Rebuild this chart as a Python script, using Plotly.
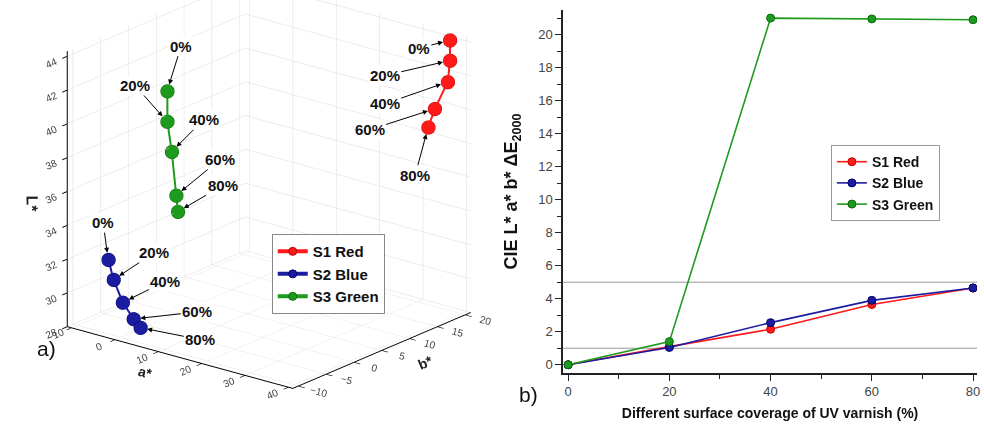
import math
import plotly.graph_objects as go

# ---------------- data ----------------
coverage = [0, 20, 40, 60, 80]
cov_labels = ["0%", "20%", "40%", "60%", "80%"]
series_names = ["S1 Red", "S2 Blue", "S3 Green"]

# 3D CIE L*a*b* values
red_a = [37.5, 37.5, 37.0, 34.0, 32.5]
red_b = [20.0, 20.0, 20.0, 20.0, 20.0]
red_L = [44.0, 42.8, 41.5, 39.7, 38.5]

blue_a = [-2.8, -1.6, 0.5, 3.0, 4.6]
blue_b = [-10.0, -10.0, -10.0, -10.0, -10.0]
blue_L = [32.4, 31.3, 30.1, 29.3, 28.9]

green_a = [-10.5, -10.5, -10.5, -10.5, -10.5]
green_b = [6.6, 6.6, 7.4, 8.2, 8.5]
green_L = [39.5, 37.7, 35.8, 33.1, 32.1]

# Delta E 2000 (panel b)
red_dE = [0.0, 1.1, 2.15, 3.65, 4.65]
blue_dE = [0.0, 1.05, 2.55, 3.9, 4.65]
green_dE = [0.0, 1.4, 21.0, 20.95, 20.9]
thresholds = [1, 5]

# ---------------- styles ----------------
colors = {"S1 Red": "#ff1a1a", "S2 Blue": "#1c1ca0", "S3 Green": "#1e9a1e"}
edge = {"S1 Red": "#c00000", "S2 Blue": "#000070", "S3 Green": "#0a6a0a"}
FONT = "Liberation Sans, Arial, sans-serif"

# label offsets (pixels) for the 3D annotations
red_off = [(-31, 8), (-65, 15), (-63, 22), (-65, 21), (-13, 48)]
blue_off = [(-5, -37), (41, -27), (43, -21), (64, -7), (60, 12)]
green_off = [(14, -45), (-32, -36), (32, -32), (44, -36), (45, -26)]

fig = go.Figure()

sets3d = [
    ("S1 Red", red_a, red_b, red_L, red_off),
    ("S2 Blue", blue_a, blue_b, blue_L, blue_off),
    ("S3 Green", green_a, green_b, green_L, green_off),
]
annotations3d = []
for name, xa, yb, zl, offs in sets3d:
    fig.add_trace(go.Scatter3d(
        x=xa, y=yb, z=zl, mode="lines+markers", name="<b>" + name + "</b>",
        line=dict(color=colors[name], width=4),
        marker=dict(color=colors[name], size=8, line=dict(color=edge[name], width=1)),
        legend="legend",
    ))
    for i in range(len(xa)):
        annotations3d.append(dict(
            x=xa[i], y=yb[i], z=zl[i], text="<b>" + cov_labels[i] + "</b>",
            showarrow=True, ax=offs[i][0], ay=offs[i][1],
            arrowhead=2, arrowsize=1, arrowwidth=1, arrowcolor="black",
            standoff=7, font=dict(family=FONT, size=15, color="#111"),
            bgcolor="white",
        ))

for name, vals in [("S1 Red", red_dE), ("S2 Blue", blue_dE), ("S3 Green", green_dE)]:
    fig.add_trace(go.Scatter(
        x=coverage, y=vals, mode="lines+markers", name="<b>" + name + "</b>",
        line=dict(color=colors[name], width=1.6),
        marker=dict(color=colors[name], size=8, line=dict(color=edge[name], width=1)),
        legend="legend2", xaxis="x", yaxis="y",
    ))

for t in thresholds:
    fig.add_shape(type="line", xref="x domain", yref="y", x0=0, x1=1, y0=t, y1=t,
                  line=dict(color="#9a9a9a", width=1), layer="below")

ax3 = dict(
    showbackground=False, gridcolor="#dcdcdc", gridwidth=1,
    showline=True, linecolor="black", linewidth=2, mirror=False,
    ticks="outside", tickcolor="black", ticklen=8, tickwidth=2,
    zeroline=False, showspikes=False,
    tickfont=dict(family=FONT, size=11, color="#444"),
)

R = 2.0
CZ = -0.16
phi = math.radians(-51.3)
eps = math.radians(20)
eye = dict(x=R * math.cos(phi) * math.cos(eps), y=R * math.sin(phi) * math.cos(eps),
           z=R * math.sin(eps) + CZ)

fig.update_layout(
    width=984, height=428,
    margin=dict(l=0, r=0, t=0, b=0),
    paper_bgcolor="white", plot_bgcolor="white",
    font=dict(family=FONT, color="#222"),
    scene=dict(
        domain=dict(x=[0.014, 0.534], y=[0.0, 1.0]),
        xaxis=dict(ax3, title=dict(text="<b>a*</b>", font=dict(size=14)), range=[-11, 41], dtick=10),
        yaxis=dict(ax3, title=dict(text="<b>b*</b>", font=dict(size=14)), range=[-11, 21], dtick=5),
        zaxis=dict(ax3, title=dict(text="<b>L*</b>", font=dict(size=16)), range=[28, 44.3], dtick=2),
        aspectmode="manual", aspectratio=dict(x=1.35, y=1.33, z=1.37),
        camera=dict(eye=eye, center=dict(x=0.0, y=0.0, z=CZ),
                    projection=dict(type="orthographic")),
        annotations=annotations3d,
    ),
    xaxis=dict(domain=[0.574, 0.996], range=[-1, 80.8], tickvals=coverage, showgrid=False,
               zeroline=False, showline=True, linecolor="#222", linewidth=1.5,
               ticks="outside", ticklen=6, tickcolor="#222",
               minor=dict(ticks="outside", ticklen=4, dtick=10, tickcolor="#222"),
               tickfont=dict(size=13, color="#444"),
               title=dict(text="<b>Different surface coverage of UV varnish (%)</b>",
                          font=dict(size=14, color="#111"), standoff=10),
               anchor="y"),
    yaxis=dict(domain=[0.1285, 0.977], range=[-0.5, 21.5], dtick=2, showgrid=False,
               zeroline=False, showline=True, linecolor="#222", linewidth=1.5,
               ticks="outside", ticklen=6, tickcolor="#222",
               minor=dict(ticks="outside", ticklen=4, dtick=1, tickcolor="#222"),
               tickfont=dict(size=13, color="#444"),
               title=dict(text="<b>CIE L* a* b* ΔE<sub>2000</sub></b>",
                          font=dict(size=18, color="#111"), standoff=16),
               anchor="x"),
    legend=dict(x=0.277, y=0.453, xanchor="left", yanchor="top",
                bordercolor="#888", borderwidth=1, bgcolor="white",
                font=dict(size=15, color="#111", family=FONT)),
    legend2=dict(x=0.847, y=0.661, xanchor="left", yanchor="top",
                 bordercolor="#999", borderwidth=1, bgcolor="white",
                 font=dict(size=14, color="#111", family=FONT)),
    annotations=[
        dict(text="a)", x=35 / 984, y=1 - 362 / 428, xref="paper", yref="paper",
             showarrow=False, font=dict(size=21, color="#111")),
        dict(text="b)", x=530 / 984, y=1 - 408 / 428, xref="paper", yref="paper",
             showarrow=False, font=dict(size=21, color="#111")),
    ],
)

fig.write_html("out.html")
